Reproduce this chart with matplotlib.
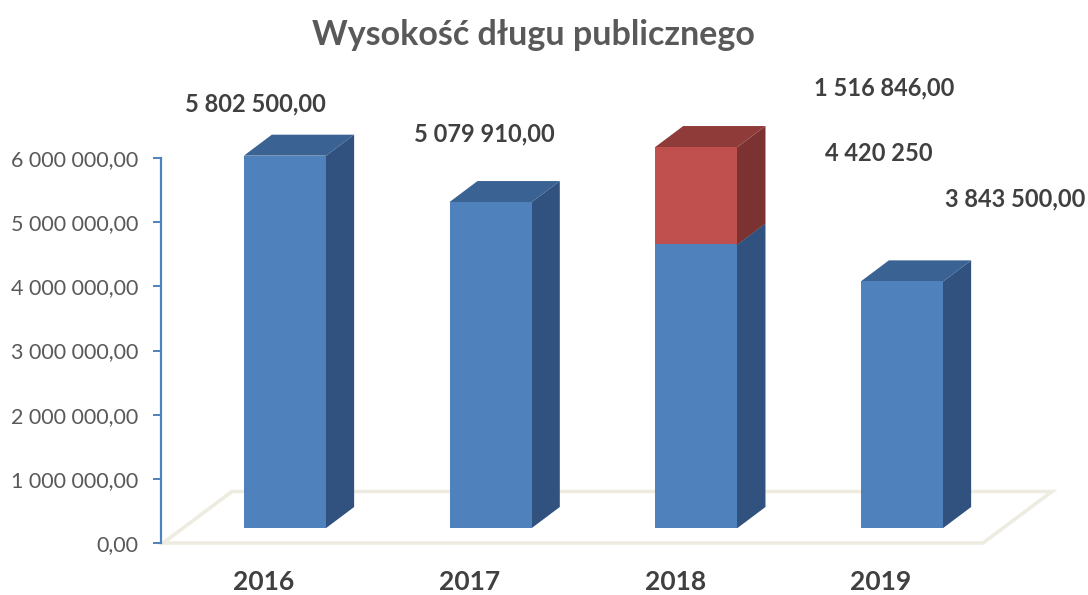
import matplotlib
matplotlib.use("Agg")
import matplotlib.pyplot as plt
from matplotlib.patches import Polygon
from matplotlib.transforms import Affine2D

years = ["2016", "2017", "2018", "2019"]
debt_base = [5802500, 5079910, 4420250, 3843500]
debt_extra = [0, 0, 1516846, 0]
base_labels = ["5 802 500,00", "5 079 910,00", "4 420 250", "3 843 500,00"]
extra_labels = ["", "", "1 516 846,00", ""]
y_ticks = [0, 1000000, 2000000, 3000000, 4000000, 5000000, 6000000]
y_tick_labels = ["0,00", "1 000 000,00", "2 000 000,00", "3 000 000,00",
                 "4 000 000,00", "5 000 000,00", "6 000 000,00"]

W, H = 1088, 595
plt.rcParams["font.family"] = ["Lato", "DejaVu Sans"]
fig = plt.figure(figsize=(W / 100, H / 100), dpi=100)
fig.patch.set_facecolor("white")

AX_L, AX_B, AX_T = 161, 543, 158
STEP, C0 = 205.67, 285
ax = fig.add_axes([AX_L / W, (H - AX_B) / H, (W - AX_L) / W, (AX_B - AX_T) / H])
ax.set_ylim(0, 6000000)
ax.set_xlim((AX_L - C0) / STEP, (W - C0) / STEP)
ax.patch.set_alpha(0)

BLUE, BLUE_S, BLUE_T = "#4F81BD", "#31527E", "#3A6292"
RED, RED_S, RED_T = "#C0504D", "#7C3230", "#8F3B39"
DEPTH_X, DEPTH_Y, LIFT = 28, 21, 15
BAR_W = 0.4

ppu_y = (AX_B - AX_T) / 6000000
dxd = DEPTH_X / STEP
dyd = DEPTH_Y / ppu_y
tr = ax.transData + Affine2D().translate(0, LIFT)

# floor
px = Affine2D().scale(1, -1).translate(0, H)
ax.add_patch(Polygon([(163, 543), (232, 491.5), (1052, 491.5), (983, 543)], closed=True,
                     fill=False, edgecolor="#EEECE1", lw=2.6, transform=px, zorder=0.5,
                     joinstyle="miter", clip_on=False))


def box(x, lo, hi, front, side, top, z):
    l, r = x - BAR_W / 2, x + BAR_W / 2
    ax.bar(x, hi - lo, BAR_W, bottom=lo, color=front, transform=tr, clip_on=False, zorder=z + 0.2)
    ax.add_patch(Polygon([(r - 0.01, lo), (r, lo), (r + dxd, lo + dyd), (r + dxd, hi + dyd), (r, hi), (r - 0.01, hi)],
                         closed=True, fc=side, ec="none", transform=tr, clip_on=False, zorder=z))
    ax.add_patch(Polygon([(l, hi), (l + dxd, hi + dyd), (r + dxd, hi + dyd), (r, hi)],
                         closed=True, fc=top, ec="none", transform=tr, clip_on=False, zorder=z + 0.1))


for i, (b, e) in enumerate(zip(debt_base, debt_extra)):
    box(i, 0, b, BLUE, BLUE_S, BLUE_T, 3)
    if e:
        box(i, b, b + e, RED, RED_S, RED_T, 4)

# data labels: centre offsets (px) from the top-front of each segment
base_off = [(-30, 52), (-6, 68), (182, 91), (113, 82)]
extra_off = [None, None, (188, 59), None]
lab_kw = dict(ha="center", va="center", fontsize=17, fontweight="bold", color="#404040",
              textcoords="offset pixels", annotation_clip=False, zorder=6)
for i, (b, e) in enumerate(zip(debt_base, debt_extra)):
    ax.annotate(base_labels[i], (i, b), xytext=(base_off[i][0], base_off[i][1] + LIFT), **lab_kw)
    if e:
        ax.annotate(extra_labels[i], (i, b + e), xytext=(extra_off[i][0], extra_off[i][1] + LIFT), **lab_kw)

for s in ["top", "right", "bottom"]:
    ax.spines[s].set_visible(False)
ax.spines["left"].set_color(BLUE)
ax.spines["left"].set_linewidth(1.6)
ax.set_yticks(y_ticks)
ax.set_yticklabels(y_tick_labels, fontsize=15.5, color="#595959")
ax.tick_params(axis="y", length=5.8, width=1.4, color=BLUE, pad=10.5)
ax.set_xticks(range(len(years)))
ax.set_xticklabels(years, fontsize=19, fontweight="bold", color="#404040")
ax.tick_params(axis="x", length=0, pad=19.5)
for t in ax.get_xticklabels():
    t.set_transform(t.get_transform() + Affine2D().translate(-21, 0))

fig.text(533 / W, 1 - 35 / H, "Wysokość długu publicznego", ha="center", va="center",
         fontsize=24.5, fontweight="bold", color="#595959")

fig.savefig("out.png", dpi=100)
